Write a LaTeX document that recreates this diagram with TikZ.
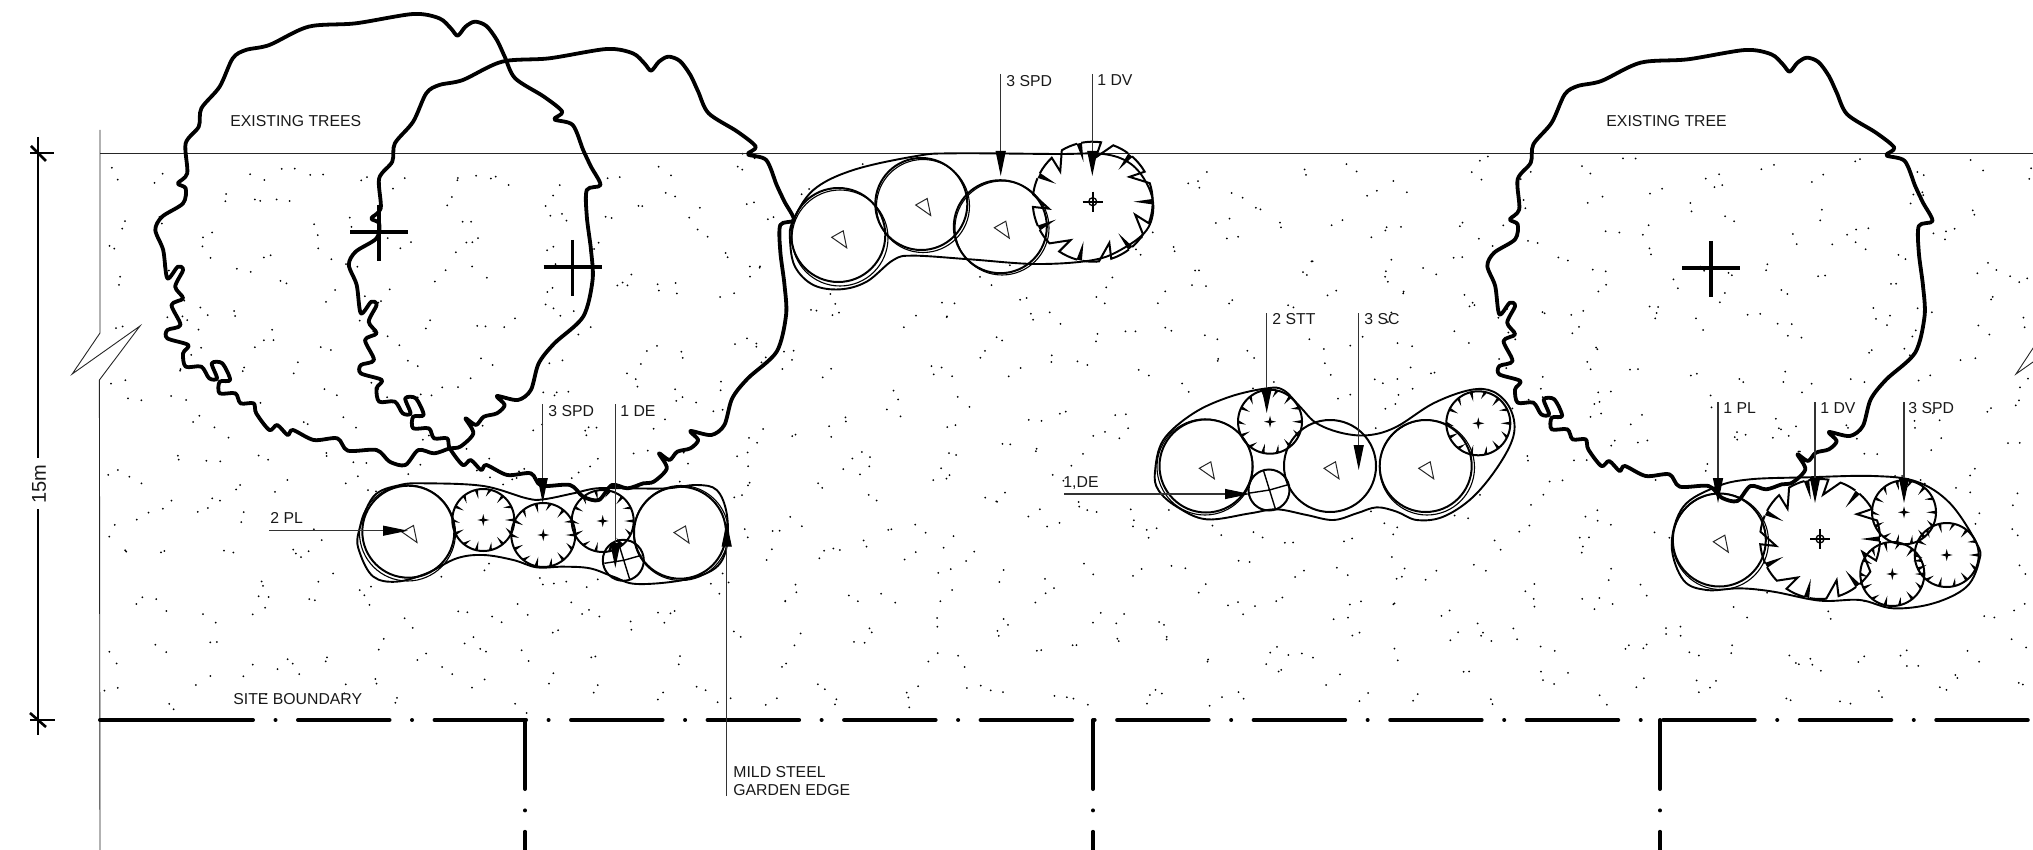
\documentclass[tikz,border=0pt]{standalone}
\usepackage{fontspec}
\setmainfont{Liberation Sans}
\usetikzlibrary{arrows.meta}
\tikzset{
  plantline/.style={line width=1pt,black},
  bedline/.style={line width=0.95pt,black,fill=white},
  treeline/.style={line width=1.9pt,black,line join=round},
  crossline/.style={line width=1.8pt,black},
  thinline/.style={line width=0.45pt,black!85},
  leader/.style={line width=0.55pt,black!80,-{Triangle[length=12.5pt,width=5pt,black]}},
  boundary/.style={line width=2pt,black,line cap=round},
  lbl/.style={font=\fontsize{7.9}{9.2}\selectfont,text=black!90,inner sep=0pt,anchor=west,align=left},
  ztri/.style={line width=0.5pt,black!85}
}
\newcommand{\treepath}{plot[smooth cycle,tension=0.5] coordinates {
(790,42)(840,55)(862,85)(875,107)(890,80)(908,65)(930,78)(950,120)(965,170)(985,235)(1040,290)(1075,335)(1060,358)(1095,375)(1115,450)(1130,500)(1148,555)(1122,570)(1122,650)(1130,750)(1133,840)(1115,950)(1060,1030)(1030,1090)(1015,1170)(990,1200)(950,1188)(965,1215)(950,1240)(925,1250)(910,1275)(890,1255)(905,1300)(880,1340)(860,1345)(830,1360)(800,1350)(775,1395)(745,1385)(720,1350)(665,1352)(645,1315)(600,1320)(560,1290)(550,1305)(530,1275)(515,1290)(490,1240)(485,1210)(460,1210)(450,1180)(420,1180)(420,1145)(440,1140)(425,1090)(405,1090)(415,1135)(400,1135)(385,1100)(355,1100)(350,1060)(360,1035)(320,1015)(320,990)(345,975)(328,915)(350,895)(335,860)(350,810)(340,800)(320,835)(312,750)(297,690)(310,650)(350,610)(355,565)(340,550)(358,520)(355,430)(380,380)(385,325)(420,260)(445,175)(470,150)(515,135)(590,80)(680,70)}}
\newcommand{\drawtree}[2]{%
  \begin{scope}[shift={(#1,#2)}]
    \begin{scope}[x=0.2615pt,y=-0.16667pt]
      \draw[treeline] \treepath;
    \end{scope}
    \draw[crossline] (350,232) -- (408,232);
    \draw[crossline] (379,205) -- (379,261);
  \end{scope}}
\newcommand{\plantTri}[2]{%
  \draw[ztri,line join=miter] (#1,#2) -- ++(11.5,-6.5) -- ++(3.5,17) -- cycle;}
\newcommand{\plantRound}[3]{%
  \draw[plantline] (#1,#2) circle[radius=#3];}
\newcommand{\teeth}[1]{%
  \pgfmathsetmacro{\ra}{#1}
  \pgfmathsetmacro{\rb}{0.68*#1}
  \pgfmathsetmacro{\rc}{0.74*#1}
  \foreach \a in {0,51,103,154,206,257,309}{
    \fill[black] (\a-2.6:\ra) -- (\a:\rb) -- (\a+2.6:\ra) -- cycle;
    \draw[plantline,line join=miter] (\a+2:\ra) arc[start angle=\a+2,end angle=\a+21,radius=\ra]
       -- (\a+17:\rc) -- (\a+33:\ra) arc[start angle=\a+33,end angle=\a+49,radius=\ra];
  }}
\newcommand{\smallteeth}[1]{%
  \pgfmathsetmacro{\ra}{#1}
  \pgfmathsetmacro{\rb}{0.7*#1}
  \pgfmathsetmacro{\rc}{0.76*#1}
  \draw[plantline] (0,0) circle[radius=\ra];
  \foreach \a in {0,51,103,154,206,257,309}{
    \fill[black] (\a-3:\ra) -- (\a:\rb) -- (\a+3:\ra) -- cycle;
    \fill[black] (\a+23:\ra) -- (\a+19:\rc) -- (\a+29:\ra) -- cycle;
  }}
\newcommand{\spiky}[3]{%
  \begin{scope}[shift={(#1,#2)}]
    \smallteeth{#3}
    \fill (-6,0)--(-1.2,-1.2)--(0,-6)--(1.2,-1.2)--(6,0)--(1.2,1.2)--(0,6)--(-1.2,1.2)--cycle;
  \end{scope}}
\newcommand{\bigspiky}[2]{%
  \begin{scope}[shift={(#1,#2)}]
    \teeth{60}
    \draw[line width=0.65pt] (0,0) circle[radius=4];
    \draw[line width=0.85pt] (-10,0) -- (10,0) (0,-10) -- (0,10);
  \end{scope}}
\newcommand{\chordplant}[2]{%
  \begin{scope}[shift={(#1,#2)}]
    \draw[plantline] (0,0) circle[radius=20.5];
    \draw[line width=0.7pt] (-5.7,-20) -- (6.7,20) (0.5,0) -- (18,-5) (0.5,0) -- (-19,3);
  \end{scope}}
\begin{document}
\begin{tikzpicture}[x=0.5pt,y=-0.5pt]
\useasboundingbox (0,0) rectangle (2033,850);
\clip (0,0) rectangle (2033,850);
% stipple
\pgfmathsetseed{4242}
\foreach \cx in {0,...,47}{
 \foreach \cy in {0,...,13}{
  \pgfmathsetmacro{\dx}{106+40.2*\cx+rnd*40}
  \pgfmathsetmacro{\dy}{158+39.2*\cy+rnd*39}
  \pgfmathsetmacro{\ex}{\dx+rnd*30-15}
  \pgfmathsetmacro{\ey}{\dy+rnd*24-12}
  \fill[black] (\dx,\dy) circle[radius=0.5pt] (\ex,\ey) circle[radius=0.5pt];
 }
}
% site lines
\draw[thinline] (100,130) -- (100,333) -- (72.2,374) -- (140,326) -- (99.4,380) -- (100,850);
\draw[thinline] (2043,333) -- (2016,374) -- (2084,326);
\draw[thinline] (100,153) -- (2033,153);
% dimension
\coordinate (dimtop) at (38,137);
\coordinate (dimgapa) at (38,458);
\coordinate (dimgapb) at (38,509);
\coordinate (dimbot) at (38,735);
\draw[line width=0.8pt] (dimtop) -- (dimgapa) (dimgapb) -- (dimbot);
\draw[line width=0.8pt] (30,153) -- (54,153) (30,720) -- (54.5,720);
\draw[line width=1.3pt] (31,146) -- (46,161) (30,713) -- (46,727);
\node[inner sep=0pt,rotate=90,font=\fontsize{10}{12}\selectfont,text=black!90] (dimlabel) at (39,484) {15m};
% boundary
\draw[boundary] (100,720) -- (161,720);
\draw[boundary,dash pattern=on 45.75pt off 11.25pt on 0.01pt off 11.25pt] (161.5,720) -- (2040,720);
\foreach \vx in {525,1093,1660}{
  \draw[boundary,dash pattern=on 34.5pt off 10.7pt on 0.01pt off 10.7pt] (\vx,720) -- (\vx,860);
}
% bed 1
\begin{scope}[shift={(250,380)},x=0.16667pt,y=-0.16667pt]
\draw[bedline] plot[smooth cycle,tension=0.6] coordinates {(325,460)(370,350)(450,315)(530,310)(700,318)(830,355)(880,358)(970,340)(1040,325)(1130,325)(1250,325)(1340,315)(1400,330)(1430,400)(1430,500)(1395,565)(1300,600)(1160,612)(1090,590)(1020,565)(940,560)(860,562)(790,540)(700,525)(620,535)(530,580)(440,605)(370,590)(330,520)};
\end{scope}
% bed 2
\begin{scope}[shift={(770,50)},x=0.16667pt,y=-0.16667pt]
\draw[bedline] plot[smooth cycle,tension=0.6] coordinates {(68,515)(130,420)(250,360)(440,318)(550,310)(860,312)(1000,312)(1080,340)(1130,400)(1150,470)(1130,540)(1060,595)(970,630)(800,642)(600,628)(430,617)(370,630)(290,695)(210,718)(130,705)(75,650)(60,570)};
\end{scope}
% bed 3
\begin{scope}[shift={(1050,300)},x=0.16667pt,y=-0.16667pt]
\draw[bedline] plot[smooth cycle,tension=0.6] coordinates {(315,515)(340,420)(430,340)(540,290)(650,265)(700,270)(750,320)(800,370)(880,400)(960,405)(1040,380)(1150,310)(1260,270)(1330,275)(1380,325)(1392,400)(1350,490)(1270,590)(1180,650)(1100,660)(1040,635)(980,622)(920,640)(850,660)(770,645)(680,628)(600,640)(470,658)(380,620)(325,570)};
\end{scope}
% bed 4
\begin{scope}[shift={(1640,390)},x=0.16667pt,y=-0.16667pt]
\draw[bedline] plot[smooth cycle,tension=0.6] coordinates {(95,465)(130,350)(230,290)(330,268)(500,262)(700,258)(830,275)(930,340)(1010,460)(1018,510)(980,590)(880,640)(760,655)(660,630)(540,632)(400,605)(300,595)(200,600)(130,570)};
\end{scope}
% plants bed 1
\plantRound{408.3}{531.7}{46}\draw[line width=0.55pt] (407.5,533) circle[radius=48];
\plantTri{402}{532}
\plantRound{680}{532.7}{46}\draw[line width=0.55pt] (681,533) circle[radius=47.5];
\plantTri{674}{532.5}
\spiky{483.3}{520}{31}\spiky{543.3}{535}{32}\spiky{602.7}{521}{31}\chordplant{623.3}{560.3}
% plants bed 2
\plantRound{838.3}{235}{47}\draw[line width=0.55pt] (840,238) circle[radius=48];
\plantTri{831.7}{237.3}
\plantRound{921.3}{204}{46}\draw[line width=0.55pt] (923,206) circle[radius=46.5];
\plantTri{915.7}{205}
\plantRound{1000.3}{226.7}{46.5}\draw[line width=0.55pt] (1002,228) circle[radius=47];
\plantTri{994.3}{227.7}
\bigspiky{1092.7}{201.7}
% plants bed 3
\plantRound{1206}{466}{46.5}\draw[line width=0.55pt] (1205,467) circle[radius=48];
\plantTri{1199.3}{468.3}
\plantRound{1330}{466}{46}
\plantTri{1324}{468.3}
\plantRound{1425.7}{466}{46}\draw[line width=0.55pt] (1427,467.5) circle[radius=47.5];
\plantTri{1418.7}{468.3}
\spiky{1270}{421.7}{32}\spiky{1478.3}{423.3}{32}\chordplant{1269}{490}
% plants bed 4
\plantRound{1719.3}{540}{46.5}\draw[line width=0.55pt] (1720.5,541.5) circle[radius=48];
\plantTri{1713.3}{541.7}
\bigspiky{1820}{539}
\spiky{1904}{512.3}{32}\spiky{1946.7}{555}{32}\spiky{1892.3}{574}{32}
% trees
\drawtree{0}{0}
\drawtree{193.5}{35}
\drawtree{1332}{36}
% leader ends
\foreach \n/\x/\y in {a/542.7/404,b/615.3/404,c/1000.7/74,d/1092.3/74,e/1266.7/313,f/1358.7/313,g/1718/402,h/1815/402,i/1904/402,j/269/530.7,k/1064/494,l/726.7/796}{\coordinate (s\n) at (\x,\y);}
\foreach \n/\x/\y in {a/542.7/503,b/615.3/568,c/1000.7/176,d/1092.3/176,e/1266.7/413,f/1358.7/470,g/1718/503,h/1815/503,i/1904/503,j/408/530.7,k/1250/494,l/726.7/521.7}{\coordinate (t\n) at (\x,\y);}
\foreach \n in {a,b,c,d,e,f,g,h,i,j,k,l}{\draw[leader] (s\n) -- (t\n);}
% labels
\node[lbl] (treesA) at (230,121) {EXISTING TREES};
\node[lbl] (treeC) at (1606,121) {EXISTING TREE};
\node[lbl] (n1) at (1006,81) {3 SPD};
\node[lbl] (n2) at (1097,80) {1 DV};
\node[lbl] (n3) at (548,411) {3 SPD};
\node[lbl] (n4) at (620,411) {1 DE};
\node[lbl] (n5) at (270,518) {2 PL};
\node[lbl] (n6) at (1272,319) {2 STT};
\node[lbl] (n7) at (1364,319) {3 SC};
\node[lbl] (n8) at (1063,483) {1,DE};
\node[lbl] (n9) at (1723,408) {1 PL};
\node[lbl] (n10) at (1820,408) {1 DV};
\node[lbl] (n11) at (1908,408) {3 SPD};
\node[lbl] (n12) at (733,781) {MILD STEEL\\GARDEN EDGE};
\node[lbl] (n13) at (233,699) {SITE BOUNDARY};
\end{tikzpicture}
\end{document}
